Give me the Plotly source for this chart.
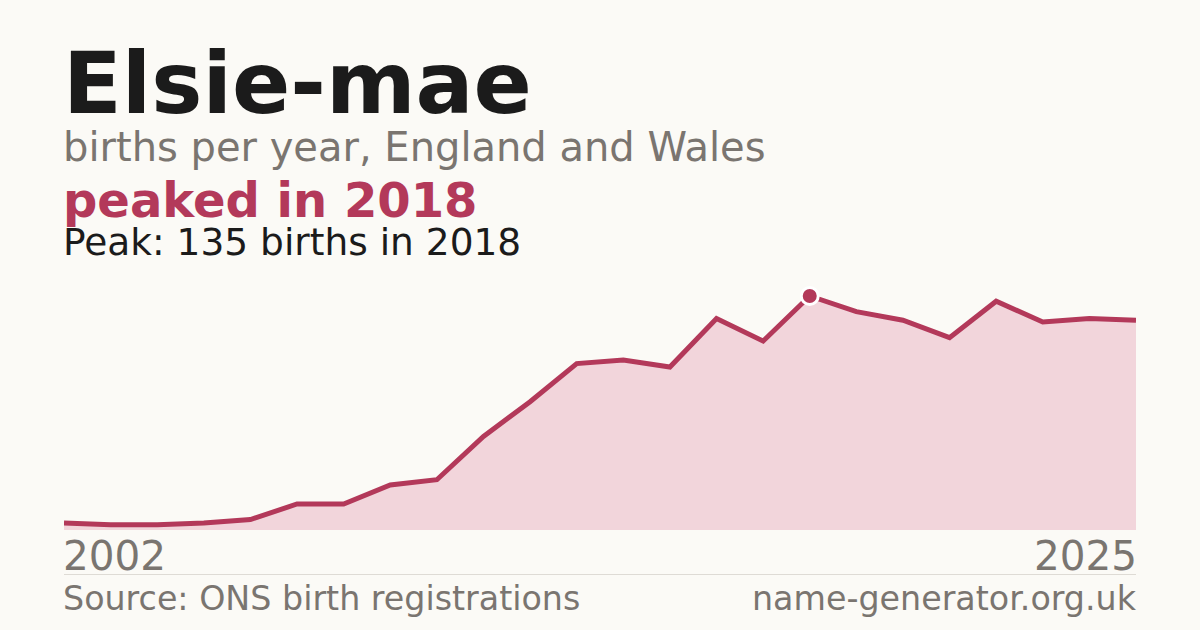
import plotly.graph_objects as go

# births per year
years = list(range(2002, 2026))
births = [4, 3, 3, 4, 6, 15, 15, 26, 29, 54, 74, 96, 98, 94, 122, 109, 135, 126, 121, 111, 132, 120, 122, 121]

name = "Elsie-mae"
subtitle = "births per year, England and Wales"
source = "Source: ONS birth registrations"
site = "name-generator.org.uk"

W, H = 1200, 630
PLOT_TOP, PLOT_BOTTOM = 270, 530

ACCENT = '#b3395a'
FILL = '#f2d5db'
GREY = '#7a7570'
DARK = '#1b1b1b'
BG = '#fbfaf6'
FONT = 'DejaVu Sans'

peak = max(births)
peak_year = years[births.index(peak)]


def py(pixel_y):
    # page pixel -> paper coordinate
    return (PLOT_BOTTOM - pixel_y) / (PLOT_BOTTOM - PLOT_TOP)


area = go.Scatter(
    x=years, y=births,
    mode='lines',
    line=dict(color=ACCENT, width=5),
    fill='tozeroy',
    fillcolor=FILL,
    hoverinfo='skip')

peak_dot = go.Scatter(
    x=[peak_year], y=[peak],
    mode='markers',
    marker=dict(size=17, color=ACCENT, line=dict(color='white', width=3)),
    cliponaxis=False,
    hoverinfo='skip')

fig = go.Figure(data=[area, peak_dot])


def text(s, y, size, color, bold=False, x=0, xref='paper', xanchor='left'):
    fig.add_annotation(
        text="<b>" + s + "</b>" if bold else s,
        x=x, xref=xref, xanchor=xanchor,
        xshift=-3 if xanchor == 'left' else 3,
        y=py(y), yref='paper', yanchor='middle',
        showarrow=False,
        font=dict(family=FONT, size=size, color=color))


text(name, 83, 86, DARK, bold=True)
text(subtitle, 147, 40, GREY)
text("peaked in " + str(peak_year), 200, 48, ACCENT, bold=True)
text("Peak: " + str(peak) + " births in " + str(peak_year), 242, 37.5, DARK)

text(str(years[0]), 556, 40.5, GREY, x=years[0], xref='x', xanchor='left')
text(str(years[-1]), 556, 40.5, GREY, x=years[-1], xref='x', xanchor='right')

text(source, 598, 33.3, GREY)
text(site, 598, 33.3, GREY, x=1, xanchor='right')

fig.add_shape(type='line', xref='paper', yref='paper',
              x0=0, x1=1, y0=py(574.5), y1=py(574.5),
              line=dict(color='#dedbd5', width=1))

fig.update_layout(
    width=W, height=H,
    showlegend=False,
    paper_bgcolor=BG,
    plot_bgcolor=BG,
    margin=dict(l=64, r=64, t=PLOT_TOP, b=H - PLOT_BOTTOM, pad=0),
    xaxis=dict(range=[years[0], years[-1]], showgrid=False, zeroline=False,
               showticklabels=False, fixedrange=True),
    yaxis=dict(range=[0, 150], showgrid=False, zeroline=False,
               showticklabels=False, fixedrange=True))

# drop the page's default body margin so the card sits at 0,0
fig.write_html("out.html", config={'displayModeBar': False},
               post_script="document.body.style.margin='0';")
